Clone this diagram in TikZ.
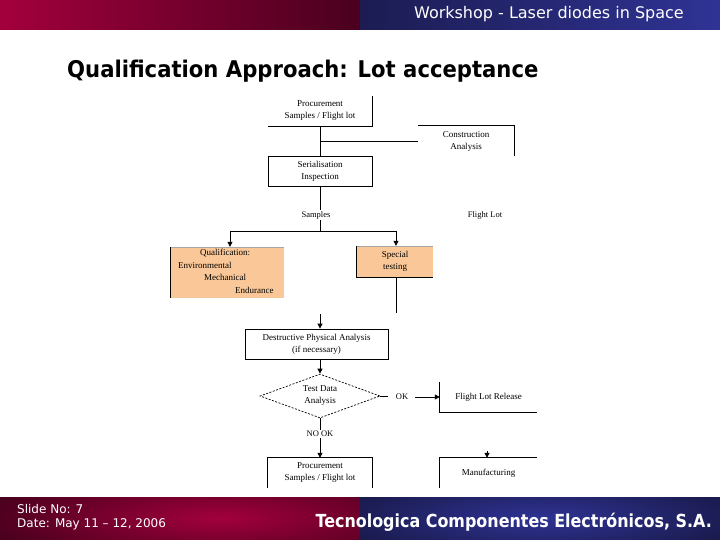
\documentclass[tikz,border=0pt]{standalone}
\usepackage{fontspec}
\setmainfont{Liberation Serif}
\newfontfamily\sansf{DejaVu Sans}
\usetikzlibrary{shapes.geometric,arrows.meta}
\definecolor{crimL}{HTML}{A2003C}
\definecolor{crimD}{HTML}{4A001E}
\definecolor{navyD}{HTML}{1C1C52}
\definecolor{navyL}{HTML}{2F3394}
\definecolor{boxfill}{HTML}{FAC898}
\tikzset{
  ln/.style={line width=0.8pt, black},
  arr/.style={ln, -{Triangle[length=5pt,width=5pt]}},
  boxtext/.style={font=\fontsize{9}{12}\selectfont, align=center, inner sep=0pt},
  lbl/.style={font=\fontsize{8.5}{10}\selectfont, inner sep=1pt},
  hdrtext/.style={text=white, inner sep=0pt},
}
\begin{document}
\begin{tikzpicture}[x=1pt,y=-1pt]
\useasboundingbox (0,0) rectangle (720,540);
% header
\shade[left color=crimL, right color=crimD] (0,0) rectangle (360,30);
\shade[left color=navyD, right color=navyL] (360,0) rectangle (720,30);
\node[hdrtext, anchor=base east, font=\sansf\fontsize{16}{19}\selectfont] (hdr) at (684,19) {Workshop - Laser diodes in Space};
% title
\node[anchor=base west, inner sep=0pt, font=\sansf\bfseries\fontsize{23}{27}\selectfont] (title) at (67,78) {\scalebox{0.92}[1]{Qualification Approach: Lot acceptance}};
% footer
\begin{scope}
\clip (0,497) rectangle (360,540);
\shade[inner color=crimL, outer color=crimD] (-20,470) rectangle (460,566);
\end{scope}
\begin{scope}
\clip (360,497) rectangle (720,540);
\shade[inner color=navyL, outer color=navyD!80!black] (300,470) rectangle (780,566);
\end{scope}
\node[hdrtext, anchor=north west, align=left, font=\sansf\fontsize{12}{14}\selectfont] (slide) at (17,504) {Slide No: 7\\Date: May 11 – 12, 2006};
\node[hdrtext, anchor=base east, font=\sansf\bfseries\fontsize{18}{22}\selectfont] (company) at (712,527) {\scalebox{0.885}[1]{Tecnologica Componentes Electrónicos, S.A.}};

% diagram
\node[boxtext, minimum width=104pt, minimum height=30pt] (p1) at (320,111) {Procurement\\Samples / Flight lot};
\draw[ln] (p1.north east) -- (p1.south east) -- (p1.south west);
\node[boxtext, minimum width=96pt, minimum height=30pt] (ca) at (466,141) {Construction\\Analysis};
\draw[ln] (ca.north west) -- (ca.north east) -- (ca.south east);
\node[boxtext, draw, line width=0.8pt, minimum width=104pt, minimum height=30pt] (ser) at (320,171) {Serialisation\\Inspection};
\draw[ln] (p1.south) -- (ser.north);
\coordinate (br) at (320,141);
\draw[ln] (br) -- (ca.west);

\node[lbl] (samples) at (316,215) {Samples};
\node[lbl] (flightlot) at (485,215) {Flight Lot};
\draw[ln] (ser.south) -- (ser.south |- samples.north);
\coordinate (split) at (320,231);
\draw[ln] (split |- samples.south) -- (split);
\coordinate (qL) at (230,231);
\coordinate (sR) at (396,231);
\draw[ln] (qL) -- (sR);

\node[fill=boxfill, minimum width=113pt, minimum height=51pt, inner sep=0pt] (qual) at (227.5,272.5) {};
\draw[line width=0.3pt, black!35] (qual.north west) -- (qual.north east);
\draw[ln] (qual.north west) -- (qual.south west);
\node[anchor=north west, align=left, inner sep=0pt, font=\fontsize{9}{12.5}\selectfont] (qtext) at (178,249) {\hspace*{22pt}Qualification:\\Environmental\\\hspace*{26pt}Mechanical\\\hspace*{57pt}Endurance};
\draw[arr] (qL) -- (qL |- qual.north);

\node[boxtext, fill=boxfill, minimum width=76pt, minimum height=31pt] (st) at (395,261.5) {Special\\testing};
\draw[line width=0.3pt, black!35] (st.north west) -- (st.north east);
\draw[ln] (st.north west) -- (st.south west) -- (st.south east);
\draw[arr] (sR) -- (sR |- st.north);
\coordinate (stEnd) at (396,313);
\draw[ln] (sR |- st.south) -- (stEnd);

\node[boxtext, draw, line width=0.8pt, minimum width=143pt, minimum height=30pt] (dpa) at (316.5,344) {Destructive Physical Analysis\\(if necessary)};
\coordinate (dIn) at (320,314);
\draw[arr] (dIn) -- (dIn |- dpa.north);

\node[boxtext, draw, dash pattern=on 2pt off 1.5pt, line width=0.7pt, diamond, aspect=2.73, minimum width=120pt, minimum height=44pt] (tda) at (320,396) {Test Data\\Analysis};
\draw[arr] (dpa.south -| tda.north) -- (tda.north);

\node[lbl] (ok) at (402,397) {OK};
\coordinate (okL) at (388,396);
\draw[ln] (tda.east) -- (okL);
\node[boxtext, minimum width=97pt, minimum height=30pt] (flr) at (488.5,397) {Flight Lot Release};
\draw[ln] (flr.north west) -- (flr.south west) -- (flr.south east);
\coordinate (okR) at (415,397);
\draw[arr] (okR) -- (flr.west);

\node[lbl] (nook) at (320,434) {NO OK};
\draw[ln] (tda.south) -- (nook.north);
\node[boxtext, minimum width=104pt, minimum height=30pt] (p2) at (320,473) {Procurement\\Samples / Flight lot};
\draw[ln] (p2.south west) -- (p2.north west) -- (p2.north east) -- (p2.south east);
\draw[arr] (nook.south) -- (p2.north);

\node[boxtext, minimum width=97pt, minimum height=30pt] (mfg) at (488.5,473) {Manufacturing};
\draw[ln] (mfg.south west) -- (mfg.north west) -- (mfg.north east);
\coordinate (mIn) at (487,451);
\draw[arr] (mIn) -- (mIn |- mfg.north);
\end{tikzpicture}
\end{document}
